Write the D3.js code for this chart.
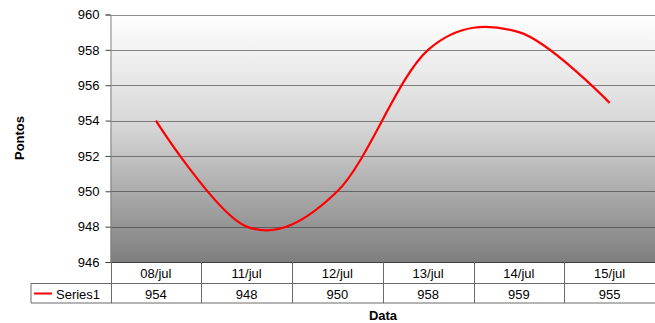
<!DOCTYPE html>
<html><head><meta charset="utf-8">
<script src="https://cdn.jsdelivr.net/npm/d3@7"></script>
<style>body{margin:0;background:#fff}svg{display:block;font-family:"Liberation Sans",Arial,sans-serif}</style>
</head><body>
<svg id="c" width="655" height="323"></svg>
<script>
const categories = ["08/jul","11/jul","12/jul","13/jul","14/jul","15/jul"];
const series1 = [954, 948, 950, 958, 959, 955];
const seriesName = "Series1";
const yTicks = [946, 948, 950, 952, 954, 956, 958, 960];
const yTitle = "Pontos";
const xTitle = "Data";

(function(){
const svg = d3.select("#c");
const pL = 110.5, pR = 655, pT = 14.5, pB = 262;
const x = d3.scalePoint().domain(categories).range([pL, pR]).padding(0.5);
const y = d3.scaleLinear().domain([946, 960]).range([pB, pT]);
const step = x.step();

const defs = svg.append("defs");
const g = defs.append("linearGradient").attr("id","bg").attr("x1",0).attr("y1",0).attr("x2",0).attr("y2",1);
g.append("stop").attr("offset","0%").attr("stop-color","#ffffff");
g.append("stop").attr("offset","45%").attr("stop-color","#d6d6d6");
g.append("stop").attr("offset","100%").attr("stop-color","#7e7e7e");

svg.append("rect").attr("x",pL).attr("y",pT).attr("width",pR-pL).attr("height",pB-pT).attr("fill","url(#bg)");

// gridlines
svg.append("g").selectAll("line").data(yTicks.slice(1)).join("line")
  .attr("x1",pL).attr("x2",pR).attr("y1",d=>Math.round(y(d))+0.5).attr("y2",d=>Math.round(y(d))+0.5)
  .attr("stroke","#2e2e2e").attr("stroke-opacity",0.55).attr("stroke-width",1.2);

// y axis
const yAxis = d3.axisLeft(y).tickValues(yTicks).tickSize(5).tickPadding(6);
const ya = svg.append("g").attr("transform",`translate(${pL},0)`).call(yAxis);
ya.select(".domain").attr("stroke","#808080");
ya.selectAll(".tick line").attr("stroke","#404040");
ya.selectAll(".tick text").attr("font-size",13).attr("fill","#000").attr("font-family","Liberation Sans, Arial, sans-serif");

// line
const line = d3.line().x((d,i)=>x(categories[i])).y(d=>y(d)).curve(d3.curveCardinal.tension(0));
svg.append("path").datum(series1).attr("d",line).attr("fill","none").attr("stroke","#ff0000").attr("stroke-width",2.2);

// data table
const rowTop = 262, rowMid = 283.5, rowBot = 303;
const tg = svg.append("g");
const tc = "#6a6a6a";
tg.append("line").attr("x1",pL).attr("x2",pR).attr("y1",rowTop+0.5).attr("y2",rowTop+0.5).attr("stroke","#404040");
tg.append("line").attr("x1",31).attr("x2",pR).attr("y1",rowMid).attr("y2",rowMid).attr("stroke",tc);
tg.append("line").attr("x1",31).attr("x2",pR).attr("y1",rowBot).attr("y2",rowBot).attr("stroke",tc);
tg.append("line").attr("x1",31).attr("x2",31).attr("y1",rowMid).attr("y2",rowBot).attr("stroke",tc);
const bounds = categories.map(c=>x(c)-step/2);
tg.selectAll("line.v").data(bounds).join("line").attr("class","v")
  .attr("x1",d=>Math.round(d)+0.5).attr("x2",d=>Math.round(d)+0.5).attr("y1",rowTop).attr("y2",rowBot).attr("stroke",tc);
tg.selectAll("text.cat").data(categories).join("text").attr("class","cat")
  .attr("x",d=>x(d)).attr("y",278).attr("text-anchor","middle").attr("font-size",13).text(d=>d);
tg.selectAll("text.val").data(series1).join("text").attr("class","val")
  .attr("x",(d,i)=>x(categories[i])).attr("y",298.5).attr("text-anchor","middle").attr("font-size",13).text(d=>d);
tg.append("line").attr("x1",34).attr("x2",52).attr("y1",293.5).attr("y2",293.5).attr("stroke","#ff0000").attr("stroke-width",2);
tg.append("text").attr("x",56).attr("y",298.5).attr("font-size",13).text(seriesName);

// axis titles
svg.append("text").attr("transform","translate(24,138) rotate(-90)").attr("text-anchor","middle")
  .attr("font-size",13).attr("font-weight","bold").text(yTitle);
svg.append("text").attr("x",383).attr("y",320).attr("text-anchor","middle")
  .attr("font-size",13).attr("font-weight","bold").text(xTitle);
})();
</script>
</body></html>
